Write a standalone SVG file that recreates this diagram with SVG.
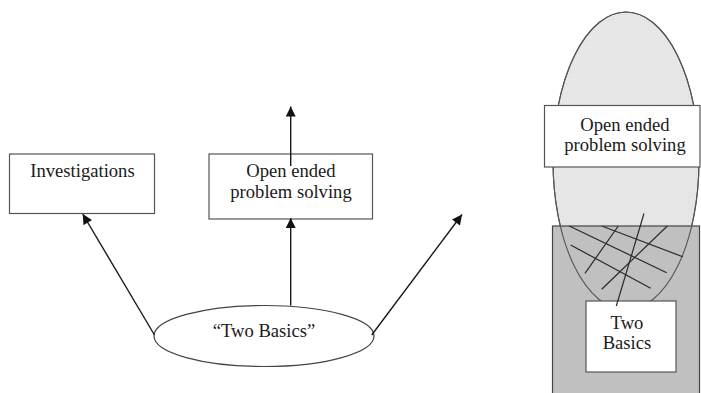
<svg xmlns="http://www.w3.org/2000/svg" width="701" height="393" viewBox="0 0 701 393">
  <style>
    .box { fill: #ffffff; stroke: #555555; stroke-width: 1.2; }
    .lbl { font-family: "Liberation Serif", "Times New Roman", serif; font-size: 18.6px; fill: #1a1a1a; text-anchor: middle; }
    .edge { fill: none; stroke: #1a1a1a; stroke-width: 1.4; }
    .hatch { stroke: #2a2a2a; stroke-width: 1.2; }
  </style>
  <defs>
    <marker id="arrow" viewBox="0 0 10 10" refX="10" refY="5" markerWidth="11" markerHeight="10" markerUnits="userSpaceOnUse" orient="auto">
      <path d="M0,0 L10,5 L0,10 z" fill="#111111"/>
    </marker>
    <pattern id="dots" width="2" height="2" patternUnits="userSpaceOnUse">
      <rect width="2" height="2" fill="#e8e8e8"/>
      <rect width="1" height="1" fill="#e0e0e0"/>
    </pattern>
  </defs>

  <rect width="701" height="393" fill="#ffffff"/>

  <!-- left: concept map -->
  <g id="investigations">
    <rect class="box" x="9.5" y="154" width="145" height="59.5"/>
    <text class="lbl" x="82.5" y="177">Investigations</text>
  </g>

  <g id="open-ended">
    <rect class="box" x="209" y="154" width="163.5" height="65"/>
    <text class="lbl" x="291" y="177">Open ended</text>
    <text class="lbl" x="291" y="198">problem solving</text>
  </g>

  <g id="two-basics">
    <ellipse cx="264" cy="336" rx="110" ry="30.5" fill="#ffffff" stroke="#444444" stroke-width="1.2"/>
    <text class="lbl" x="264" y="337">“Two Basics”</text>
  </g>

  <g id="connectors">
    <line class="edge" x1="154.5" y1="335" x2="82.7" y2="214" marker-end="url(#arrow)"/>
    <line class="edge" x1="290.7" y1="305.5" x2="290.7" y2="218" stroke="#555555" marker-end="url(#arrow)"/>
    <line class="edge" x1="290.7" y1="166" x2="290.7" y2="106.5" stroke="#444444" marker-end="url(#arrow)"/>
    <line class="edge" x1="371.7" y1="335" x2="462" y2="214.5" marker-end="url(#arrow)"/>
  </g>

  <!-- right: overlap figure -->
  <g id="overlap-figure">
    <ellipse id="open-region" cx="626" cy="161" rx="73" ry="149" fill="url(#dots)" stroke="#555555" stroke-width="1.1"/>
    <rect id="basics-region" x="552.5" y="226" width="147" height="180" fill="#c0c0c0" stroke="#444444" stroke-width="1.2"/>
    <ellipse cx="626" cy="161" rx="73" ry="149" fill="none" stroke="#555555" stroke-width="1.1"/>
    <g id="hatching">
      <line class="hatch" x1="569.3" y1="226" x2="666.7" y2="272.7"/>
      <line class="hatch" x1="601.7" y1="226" x2="682.7" y2="256.7"/>
      <line class="hatch" x1="570.7" y1="245" x2="650.7" y2="288.3"/>
      <line class="hatch" x1="618.3" y1="226" x2="585" y2="273.3"/>
      <line class="hatch" x1="667.3" y1="226" x2="601.7" y2="289.3"/>
    </g>
    <g id="open-ended-right">
      <rect class="box" x="544.5" y="105.5" width="155.5" height="61.5"/>
      <text class="lbl" x="625" y="131">Open ended</text>
      <text class="lbl" x="625" y="151">problem solving</text>
    </g>
    <g id="two-basics-right">
      <rect class="box" x="586" y="301" width="90" height="71"/>
      <text class="lbl" x="627" y="329">Two</text>
      <text class="lbl" x="627" y="349">Basics</text>
    </g>
    <line class="hatch" x1="644" y1="213.5" x2="616.3" y2="306"/>
  </g>
</svg>
